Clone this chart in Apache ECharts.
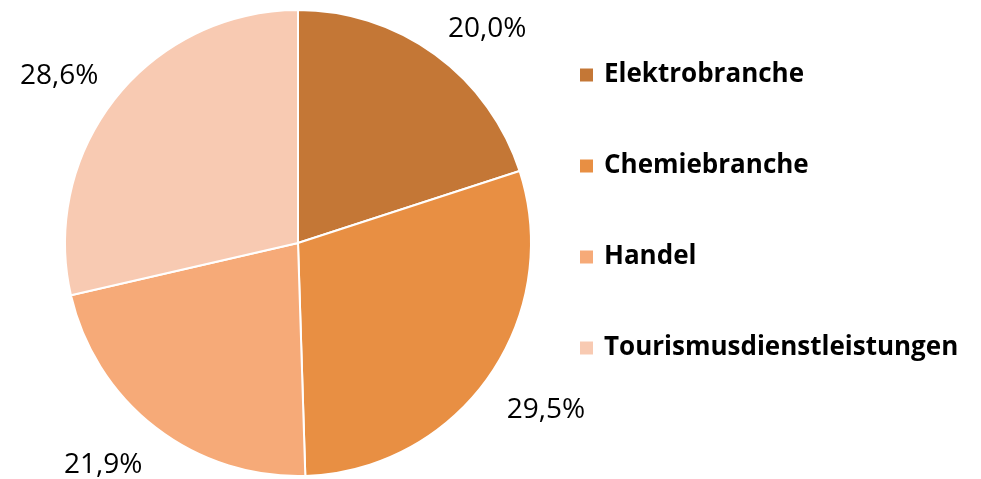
<!DOCTYPE html>
<html>
<head>
<meta charset="utf-8">
<script src="https://cdn.jsdelivr.net/npm/echarts@6/dist/echarts.min.js"></script>
<style>
  html, body { margin: 0; padding: 0; background: #fff; }
  #chart { width: 981px; height: 479px; }
</style>
</head>
<body>
<div id="chart"></div>
<script>
// Anteile nach Branche (in %)
var branches = ['Elektrobranche', 'Chemiebranche', 'Handel', 'Tourismusdienstleistungen'];
var shares = [20.0, 29.5, 21.9, 28.6];
var colors = ['#C47736', '#E88F43', '#F6AA78', '#F8CAB2'];

var chart = echarts.init(document.getElementById('chart'));

var fontFamily = '"Open Sans", "Noto Sans", sans-serif';
var cy = 243;

chart.setOption({
  animation: false,
  color: colors,
  legend: {
    orient: 'vertical',
    left: 573,
    top: 57,
    icon: 'rect',
    itemWidth: 15,
    itemHeight: 15,
    itemGap: 65,
    data: branches,
    textStyle: {
      fontFamily: fontFamily,
      fontWeight: 'bold',
      fontSize: 26,
      lineHeight: 26,
      padding: [0, 0, 0, 5],
      color: '#000'
    }
  },
  series: [{
    type: 'pie',
    center: [298, cy],
    radius: 233,
    startAngle: 90,
    clockwise: true,
    avoidLabelOverlap: false,
    itemStyle: { borderColor: '#fff', borderWidth: 2 },
    label: {
      show: true,
      position: 'outside',
      distanceToLabelLine: 0,
      fontFamily: fontFamily,
      fontSize: 28,
      color: '#000',
      formatter: function (p) {
        return p.value.toFixed(1).replace('.', ',') + '%';
      }
    },
    labelLine: { show: false, length: 22, length2: 0 },
    // anchor the label's nearest corner to the slice
    labelLayout: function (p) {
      var pts = p.labelLinePoints;
      var y = pts ? pts[pts.length - 1][1] : cy;
      return { verticalAlign: y < cy ? 'bottom' : 'top', dy: 6 };
    },
    emphasis: { disabled: true },
    data: branches.map(function (name, i) {
      return { name: name, value: shares[i] };
    })
  }]
});
</script>
</body>
</html>
